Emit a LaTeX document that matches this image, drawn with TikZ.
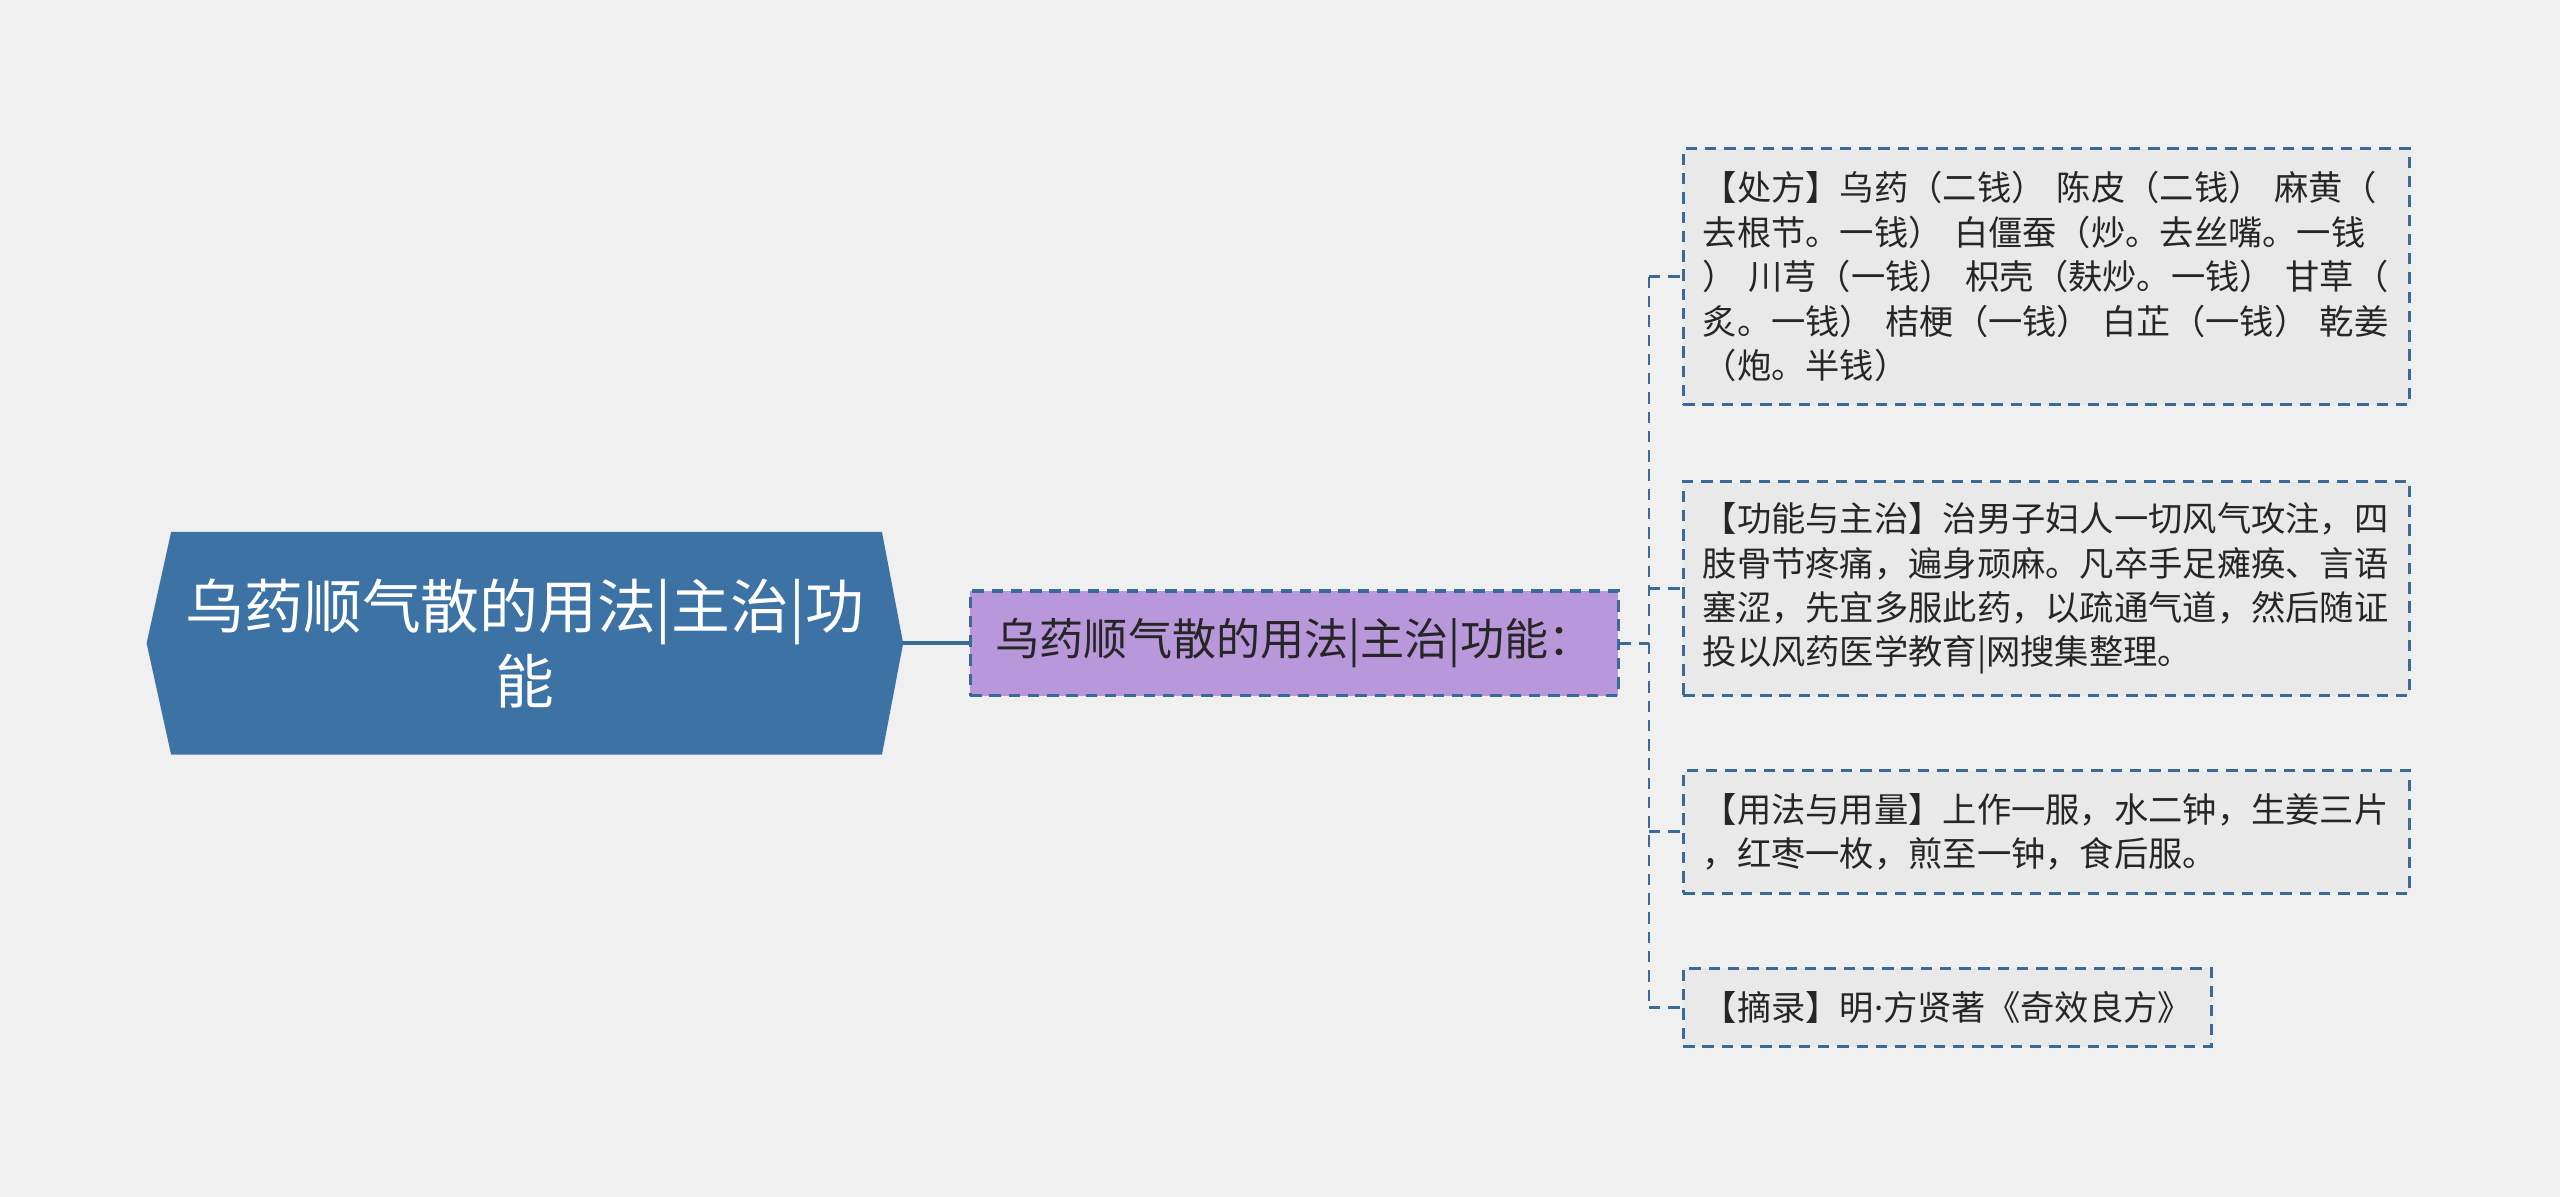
\documentclass[tikz,border=0pt]{standalone}
\usepackage{fontspec}
\newfontfamily\cjk{Noto Sans CJK SC}
\newfontfamily\latinsans{Noto Sans}
\usetikzlibrary{positioning,calc,backgrounds}
\definecolor{rootblue}{HTML}{3D72A5}
\definecolor{linkblue}{HTML}{3A6A97}
\definecolor{subpurple}{HTML}{B897DA}
\definecolor{leafgrey}{HTML}{E9E9E9}
\definecolor{bggrey}{HTML}{F0F0F0}
\definecolor{inkdark}{HTML}{262626}
\tikzset{
  dashlink/.style={draw=linkblue, line width=1.8pt, dash pattern=on 7pt off 4.8pt},
  leaf/.style={dashlink, fill=leafgrey, anchor=west, align=left, inner xsep=12pt, inner ysep=6pt,
    text=inkdark, font=\cjk\fontsize{21pt}{27.2pt}\selectfont},
}

\begin{document}
\begin{tikzpicture}[x=1pt, y=-1pt]
    \useasboundingbox (0,0) rectangle (1568,733);

    \node (root) [minimum width=463pt, minimum height=136pt, align=center, text=white,
        font=\cjk\fontsize{36pt}{46pt}\selectfont] at (321.5,394) {乌药顺气散的用法|主治|功\\能};
    \node (sub) [dashlink, line width=2pt, fill=subpurple, minimum width=397pt, minimum height=64pt,
        text=inkdark, font=\cjk\fontsize{27pt}{30pt}\selectfont, right=40pt of root] {乌药顺气散的用法|主治|功能：};

    \node (recipe) [leaf, text width=421pt, minimum height=157pt] at (1030,169.5)
        {【处方】乌药（二钱） 陈皮（二钱） 麻黄（\\去根节。一钱） 白僵蚕（炒。去丝嘴。一钱\\） 川芎（一钱） 枳壳（麸炒。一钱） 甘草（\\炙。一钱） 桔梗（一钱） 白芷（一钱） 乾姜\\（炮。半钱）};
    \node (effect) [leaf, text width=421pt, minimum height=131pt] at (1030,360.5)
        {【功能与主治】治男子妇人一切风气攻注，四\\肢骨节疼痛，遍身顽麻。凡卒手足瘫痪、言语\\塞涩，先宜多服此药，以疏通气道，然后随证\\投以风药医学教育|网搜集整理。};
    \node (dosage) [leaf, text width=421pt, minimum height=75pt] at (1030,509.5)
        {【用法与用量】上作一服，水二钟，生姜三片\\，红枣一枚，煎至一钟，食后服。};
    \node (source) [leaf, minimum height=48pt] at (1030,617)
        {【摘录】明{\latinsans ·}方贤著《奇效良方》};

    \coordinate (fork) at (1010,394);

    \begin{scope}[on background layer]
        \fill[bggrey] (0,0) rectangle (1568,733);
        \fill[rootblue] ($(root.north west)+(15,0)$) -- (root.west) -- ($(root.south west)+(15,0)$)
            -- ($(root.south east)+(-13,0)$) -- (root.east) -- ($(root.north east)+(-13,0)$) -- cycle;
    \end{scope}

    \draw [linkblue, line width=2.4pt] (root.east) -- (sub.west);
    \draw [dashlink] (sub.east) -- (fork);
    \draw [dashlink] (fork |- recipe.west) -- (fork |- source.west);
    \draw [dashlink] (fork |- recipe.west) -- (recipe.west);
    \draw [dashlink] (fork |- effect.west) -- (effect.west);
    \draw [dashlink] (fork |- dosage.west) -- (dosage.west);
    \draw [dashlink] (fork |- source.west) -- (source.west);
\end{tikzpicture}
\end{document}
